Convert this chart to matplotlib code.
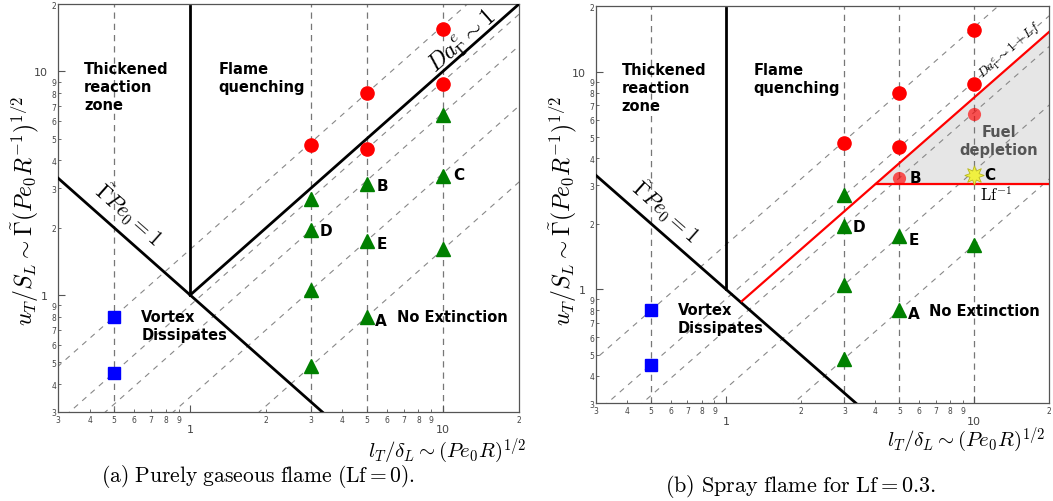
import numpy as np
import matplotlib.pyplot as plt
from matplotlib.ticker import FixedLocator, FixedFormatter

plt.rcParams['mathtext.fontset'] = 'cm'

# Dati
diag_c = [1.6, 0.9, 0.65, 0.35, 0.16]          # linee tratteggiate y = c*x
vert_x = [0.5, 3, 5, 10]                        # linee verticali tratteggiate

red_x = [3, 5, 5, 10, 10]
red_y = [4.7, 8.0, 4.5, 15.5, 8.8]
tri_x_a = [3, 3, 3, 3, 5, 5, 5, 10, 10, 10]
tri_y_a = [2.7, 1.95, 1.05, 0.48, 3.15, 1.75, 0.8, 6.4, 3.4, 1.6]
tri_x_b = [3, 3, 3, 3, 5, 5, 10]
tri_y_b = [2.7, 1.95, 1.05, 0.48, 1.75, 0.8, 1.6]
fade_x = [5, 10]
fade_y = [3.25, 6.4]
star_x = [10]
star_y = [3.35]
blue_x = [0.5, 0.5]
blue_y = [0.8, 0.45]

lf = 0.3
da_c_b = 0.76       # linea rossa Da ~ 1 + Lf
lf_inv_y = 3.05     # linea orizzontale Lf^-1

minor_pos = [0.3, 0.4, 0.5, 0.6, 0.7, 0.8, 0.9, 2, 3, 4, 5, 6, 7, 8, 9, 20]
minor_lab = ['3', '4', '5', '6', '7', '8', '9', '2', '3', '4', '5', '6', '7', '8', '9', '2']
major_pos = [1, 10]
major_lab = ['1', '10']

fig = plt.figure(figsize=(10.53, 5.02), dpi=100)


def setup_axes(ax):
    ax.set_xscale('log')
    ax.set_yscale('log')
    ax.set_xlim(0.3, 20)
    ax.set_ylim(0.3, 20)
    for axis in (ax.xaxis, ax.yaxis):
        axis.set_major_locator(FixedLocator(major_pos))
        axis.set_major_formatter(FixedFormatter(major_lab))
        axis.set_minor_locator(FixedLocator(minor_pos))
        axis.set_minor_formatter(FixedFormatter(minor_lab))
    ax.tick_params(which='major', direction='in', length=5, width=0.8, colors='#555',
                   labelsize=8, labelcolor='#444')
    ax.tick_params(which='minor', direction='in', length=2.5, width=0.6, colors='#555',
                   labelsize=5.5, labelcolor='#444')
    ax.tick_params(axis='x', which='major', pad=9)
    ax.tick_params(axis='x', which='minor', pad=2)
    ax.tick_params(axis='y', which='major', pad=7)
    ax.tick_params(axis='y', which='minor', pad=1)
    for s in ax.spines.values():
        s.set_color('#555')
        s.set_linewidth(0.9)


def draw_common(ax):
    xx = np.array([0.01, 100])
    for c in diag_c:
        ax.plot(xx, c * xx, color='#888', lw=0.8, ls=(0, (5, 5)), zorder=1)
    for xv in vert_x:
        ax.axvline(xv, color='#777', lw=0.9, ls=(0, (5, 4)), zorder=1)
    # linee nere
    ax.plot([0.3, 1 / 0.3], [1 / 0.3, 0.3], color='k', lw=2, zorder=3)
    ax.plot([1, 1], [1, 19.5], color='k', lw=2, zorder=3)
    ax.plot(blue_x, blue_y, 's', color='#0000ff', ms=8, zorder=5, ls='none')

    bold = dict(fontsize=10.5, fontweight='bold', color='black', zorder=6)
    ax.text(0.38, 11.1, 'Thickened\nreaction\nzone', va='top', ha='left', linespacing=1.25, **bold)
    ax.text(1.29, 11.1, 'Flame\nquenching', va='top', ha='left', linespacing=1.25, **bold)
    ax.text(0.64, 0.87, 'Vortex\nDissipates', va='top', ha='left', linespacing=1.25, **bold)
    ax.text(6.6, 0.8, 'No Extinction', va='center', ha='left', **bold)
    ax.text(0.57, 2.3, r'$\tilde{\Gamma}Pe_0 = 1$', rotation=-41.5, fontsize=15.5,
            ha='center', va='center', zorder=6)


# ---------------- pannello (a) ----------------
ax1 = fig.add_axes([0.0551, 0.1773, 0.4378, 0.8127])
setup_axes(ax1)
draw_common(ax1)
ax1.plot([1, 20], [1, 20], color='k', lw=2, zorder=3)
ax1.plot(red_x, red_y, 'o', color='#ff0000', ms=9.5, ls='none', zorder=5)
ax1.plot(tri_x_a, tri_y_a, '^', color='#008000', ms=9.5, ls='none', zorder=5)
lab = dict(fontsize=11, fontweight='bold', zorder=6)
ax1.text(5.45, 3.1, 'B', va='center', **lab)
ax1.text(11.0, 3.45, 'C', va='center', **lab)
ax1.text(3.25, 1.95, 'D', va='center', **lab)
ax1.text(5.45, 1.7, 'E', va='center', **lab)
ax1.text(5.4, 0.77, 'A', va='center', **lab)
ax1.text(12.0, 13.6, r'$Da^e_{\Gamma} \sim 1$', rotation=41.5, fontsize=17,
         ha='center', va='center', zorder=6)

# ---------------- pannello (b) ----------------
ax2 = fig.add_axes([0.566, 0.1952, 0.4302, 0.7908])
setup_axes(ax2)
x0 = lf_inv_y / da_c_b
ax2.fill([x0, 20, 20], [lf_inv_y, lf_inv_y, da_c_b * 20], color='#e6e6e6', zorder=0)
draw_common(ax2)
ax2.plot([1.16, 20], [1.16 * da_c_b, 20 * da_c_b], color='#ff0000', lw=1.6, zorder=4)
ax2.plot([x0, 20], [lf_inv_y, lf_inv_y], color='#ff0000', lw=1.6, zorder=4)
ax2.plot(red_x, red_y, 'o', color='#ff0000', ms=9.5, ls='none', zorder=5)
ax2.plot(fade_x, fade_y, 'o', color='#ff0000', alpha=0.65, mec='none', ms=9.5, ls='none', zorder=5)
ax2.plot(tri_x_b, tri_y_b, '^', color='#008000', ms=9.5, ls='none', zorder=5)
ax2.plot(star_x, star_y, marker=(8, 1, 0), color='#f0f040', mec='#b8b820', mew=0.6,
         ms=14, ls='none', zorder=5)
ax2.text(5.5, 3.25, 'B', va='center', **lab)
ax2.text(11.0, 3.35, 'C', va='center', **lab)
ax2.text(3.25, 1.95, 'D', va='center', **lab)
ax2.text(5.45, 1.7, 'E', va='center', **lab)
ax2.text(5.4, 0.77, 'A', va='center', **lab)
ax2.text(12.6, 4.8, 'Fuel\ndepletion', ha='center', va='center', fontsize=10.5,
         fontweight='bold', color='#555', linespacing=1.25, zorder=6)
ax2.text(12.3, 2.72, r'$\mathrm{Lf}^{-1}$', ha='center', va='center', fontsize=12, zorder=6)
ax2.text(14.0, 12.6, r'$Da^e_{\Gamma} \sim 1 + Lf$', rotation=41.2, fontsize=9.5,
         ha='center', va='center', zorder=6)

# etichette degli assi
ylab = r'$u_T/S_L \sim \tilde{\Gamma}(Pe_0 R^{-1})^{1/2}$'
xlab = r'$l_T/\delta_L \sim (Pe_0 R)^{1/2}$'
fig.text(0.024, 0.58, ylab, rotation=90, fontsize=17, ha='center', va='center')
fig.text(0.534, 0.58, ylab, rotation=90, fontsize=17, ha='center', va='center')
fig.text(0.500, 0.103, xlab, fontsize=15, ha='right', va='center')
fig.text(0.993, 0.125, xlab, fontsize=15, ha='right', va='center')

# didascalie
fig.text(0.245, 0.05, r'$\mathrm{(a)\ Purely\ gaseous\ flame\ (Lf = 0).}$', fontsize=15.5,
         ha='center', va='center')
fig.text(0.76, 0.03, r'$\mathrm{(b)\ Spray\ flame\ for\ Lf = 0.3.}$', fontsize=16,
         ha='center', va='center')

plt.savefig('out.png', dpi=100)
